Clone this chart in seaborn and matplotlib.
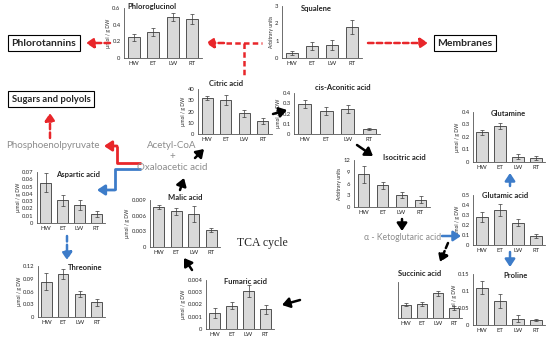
import numpy as np
import pandas as pd
import seaborn as sns
import matplotlib.pyplot as plt

# dados (médias e barras de erro)
grupos = ['HW', 'ET', 'LW', 'RT']

phloro = [0.25, 0.31, 0.49, 0.47]
phloro_err = [0.04, 0.05, 0.05, 0.06]
squalene = [0.3, 0.7, 0.75, 1.8]
squalene_err = [0.1, 0.25, 0.3, 0.4]
citric = [32, 30.5, 18.5, 11.5]
citric_err = [1.5, 4.5, 3, 3]
aconitic = [0.29, 0.225, 0.245, 0.05]
aconitic_err = [0.04, 0.035, 0.04, 0.01]
isocitric = [8.3, 5.5, 3.0, 1.9]
isocitric_err = [2.2, 0.8, 0.8, 1.0]
glutamine = [0.24, 0.29, 0.04, 0.03]
glutamine_err = [0.02, 0.025, 0.02, 0.015]
glutamic = [0.28, 0.355, 0.225, 0.09]
glutamic_err = [0.05, 0.06, 0.035, 0.02]
proline = [0.11, 0.07, 0.018, 0.015]
proline_err = [0.02, 0.02, 0.01, 0.004]
succinic = [0.03, 0.031, 0.055, 0.022]
succinic_err = [0.004, 0.005, 0.006, 0.004]
fumaric = [0.0013, 0.0019, 0.0031, 0.0016]
fumaric_err = [0.0004, 0.0003, 0.0005, 0.0004]
malic = [0.0077, 0.0068, 0.0063, 0.0032]
malic_err = [0.0004, 0.0006, 0.0015, 0.0004]
aspartic = [0.055, 0.031, 0.025, 0.012]
aspartic_err = [0.013, 0.007, 0.007, 0.004]
threonine = [0.083, 0.102, 0.054, 0.035]
threonine_err = [0.02, 0.012, 0.007, 0.008]

W, H = 550, 342
UMOL = 'µmol / g DW'
ARB = 'Arbitrary units'

sns.set_style('white')
plt.rcParams['font.family'] = ['Lato', 'DejaVu Sans']

fig = plt.figure(figsize=(W / 100, H / 100), dpi=100)

# camada de sobreposição em pixels para setas e textos
ov = fig.add_axes([0, 0, 1, 1], zorder=5)
ov.set_xlim(0, W)
ov.set_ylim(H, 0)
ov.axis('off')
ov.patch.set_alpha(0)


def plota_barras(nome, vals, errs, caixa, ymax, passo, ylabel, tit_xy, labels=True):
    l, r, t, b = caixa
    ax = fig.add_axes([l / W, 1 - b / H, (r - l) / W, (b - t) / H])
    df = pd.DataFrame({'grupo': grupos, 'valor': vals})
    sns.barplot(data=df, x='grupo', y='valor', color='#d9d9d9', saturation=1,
                edgecolor='#3a3a3a', linewidth=0.6, width=0.62, errorbar=None, ax=ax)
    ax.errorbar(range(4), vals, yerr=errs, fmt='none', ecolor='#3a3a3a',
                elinewidth=0.5, capsize=1.3, capthick=0.5)
    ticks = np.arange(0, ymax + passo / 2, passo)
    ax.set_ylim(0, ymax)
    ax.set_xlim(-0.5, 3.5)
    ax.set_yticks(ticks)
    if labels:
        ax.set_yticklabels(['%g' % round(v, 6) for v in ticks])
    else:
        ax.set_yticklabels([])
    ax.set_xticks([-0.5, 0.5, 1.5, 2.5, 3.5], minor=True)
    ax.tick_params(axis='x', which='major', length=0, pad=2.5, labelsize=4.3)
    ax.tick_params(axis='x', which='minor', length=1.5, width=0.5, color='#555555')
    ax.tick_params(axis='y', length=1.5, width=0.5, pad=1, labelsize=4.2, color='#555555')
    for s in ['top', 'right']:
        ax.spines[s].set_visible(False)
    for s in ['left', 'bottom']:
        ax.spines[s].set_linewidth(0.6)
        ax.spines[s].set_color('#555555')
    ax.set_xlabel('')
    ax.set_ylabel(ylabel if labels else '', fontsize=3.6, labelpad=1)
    ax.patch.set_alpha(0)
    ov.text(tit_xy[0], tit_xy[1], nome, ha='center', va='center',
            fontsize=5.5, fontweight='bold')
    return ax


plota_barras('Phloroglucinol', phloro, phloro_err, (124, 202, 8, 58), 0.6, 0.2, UMOL, (152, 7))
plota_barras('Squalene', squalene, squalene_err, (282, 362, 6, 58), 3, 1, ARB, (316, 9))
plota_barras('Citric acid', citric, citric_err, (198, 272, 89, 134), 40, 10, UMOL, (226, 84))
plota_barras('cis-Aconitic acid', aconitic, aconitic_err, (294, 380, 93, 134), 0.4, 0.1, UMOL, (343, 87))
plota_barras('Isocitric acid', isocitric, isocitric_err, (354, 430, 160, 207), 12, 3, ARB, (404, 158))
plota_barras('Glutamine', glutamine, glutamine_err, (473, 545, 112, 162), 0.4, 0.1, UMOL, (508, 114))
plota_barras('Glutamic acid', glutamic, glutamic_err, (473, 545, 195, 245), 0.5, 0.1, UMOL, (505, 196))
plota_barras('Proline', proline, proline_err, (473, 545, 274, 325), 0.15, 0.05, UMOL, (515, 276))
plota_barras('Succinic acid', succinic, succinic_err, (398, 462, 282, 318), 0.08, 0.02, UMOL, (420, 274), labels=False)
plota_barras('Fumaric acid', fumaric, fumaric_err, (206, 274, 280, 329), 0.004, 0.001, UMOL, (245, 282))
plota_barras('Malic acid', malic, malic_err, (150, 220, 200, 247), 0.009, 0.003, UMOL, (185, 198))
plota_barras('Aspartic acid', aspartic, aspartic_err, (37, 105, 172, 223), 0.07, 0.01, UMOL, (78, 175))
plota_barras('Threonine', threonine, threonine_err, (38, 105, 266, 317), 0.12, 0.03, UMOL, (85, 267))

RED = '#e8262a'
BLUE = '#3d7cc9'


def seta(pts, cor, ls='-', lw=1.8, hl=0.45, hw=0.3, ponta=True):
    xs, ys = zip(*pts)
    if len(pts) > 2:
        ov.plot(xs[:-1], ys[:-1], color=cor, lw=lw, ls=ls, solid_capstyle='butt')
    if ponta:
        ov.annotate('', xy=pts[-1], xytext=pts[-2],
                    arrowprops=dict(arrowstyle='-|>,head_length=%g,head_width=%g' % (hl, hw),
                                    color=cor, lw=lw, linestyle=ls, shrinkA=0, shrinkB=0))
    else:
        ov.plot(xs[-2:], ys[-2:], color=cor, lw=lw, ls=ls)


tr = (0, (2.2, 1.3))
# vias em vermelho tracejado
seta([(110, 43), (86, 43)], RED, ls=tr)
seta([(224, 43), (206, 43)], RED, ls=tr)
seta([(226, 43), (262, 43)], RED, ls=tr, ponta=False)
seta([(244, 43), (244, 76)], RED, ls=tr, ponta=False)
seta([(368, 43), (428, 43)], RED, ls=tr)
seta([(50, 138), (50, 113)], RED, ls=tr)
# vias sólidas
seta([(141, 163), (117, 163), (117, 146), (104, 146)], RED, lw=2)
seta([(141, 169), (115, 169), (115, 190), (97, 190)], BLUE, lw=2)
seta([(67, 236), (67, 260)], BLUE, ls=tr)
seta([(510, 186), (510, 173)], BLUE)
seta([(510, 252), (510, 267)], BLUE)
seta([(442, 236), (461, 236)], BLUE)
# ciclo de Krebs
seta([(195, 158), (204, 149)], 'black')
seta([(273, 114), (287, 110)], 'black')
seta([(357, 145), (373, 156)], 'black')
seta([(402, 219), (402, 231)], 'black')
seta([(448, 243), (440, 262)], 'black', ls=tr)
seta([(300, 300), (282, 305)], 'black')
seta([(192, 270), (184, 258)], 'black')
seta([(180, 190), (184, 178)], 'black')

# caixas e textos
caixa = dict(boxstyle='square,pad=0.35', fc='white', ec='black', lw=0.8)
ov.text(44, 43, 'Phlorotannins', ha='center', va='center', fontsize=7.5, fontweight='bold', bbox=caixa)
ov.text(465, 43, 'Membranes', ha='center', va='center', fontsize=7.5, fontweight='bold', bbox=caixa)
ov.text(51, 99, 'Sugars and polyols', ha='center', va='center', fontsize=6.8, fontweight='bold', bbox=caixa)

cinza = '#8c8c8c'
ov.text(53, 146, 'Phosphoenolpyruvate', ha='center', va='center', fontsize=7, color=cinza)
ov.text(172, 146, 'Acetyl-CoA', ha='center', va='center', fontsize=7, color=cinza)
ov.text(172, 156, '+', ha='center', va='center', fontsize=7, color=cinza)
ov.text(172, 167, 'Oxaloacetic acid', ha='center', va='center', fontsize=7, color=cinza)
ov.text(403, 237, 'α - Ketoglutaric acid', ha='center', va='center', fontsize=6.2, color=cinza)
ov.text(262, 243, 'TCA cycle', ha='center', va='center', fontsize=8.5,
        family=['Liberation Serif', 'DejaVu Serif'])

fig.savefig('out.png', dpi=100)
